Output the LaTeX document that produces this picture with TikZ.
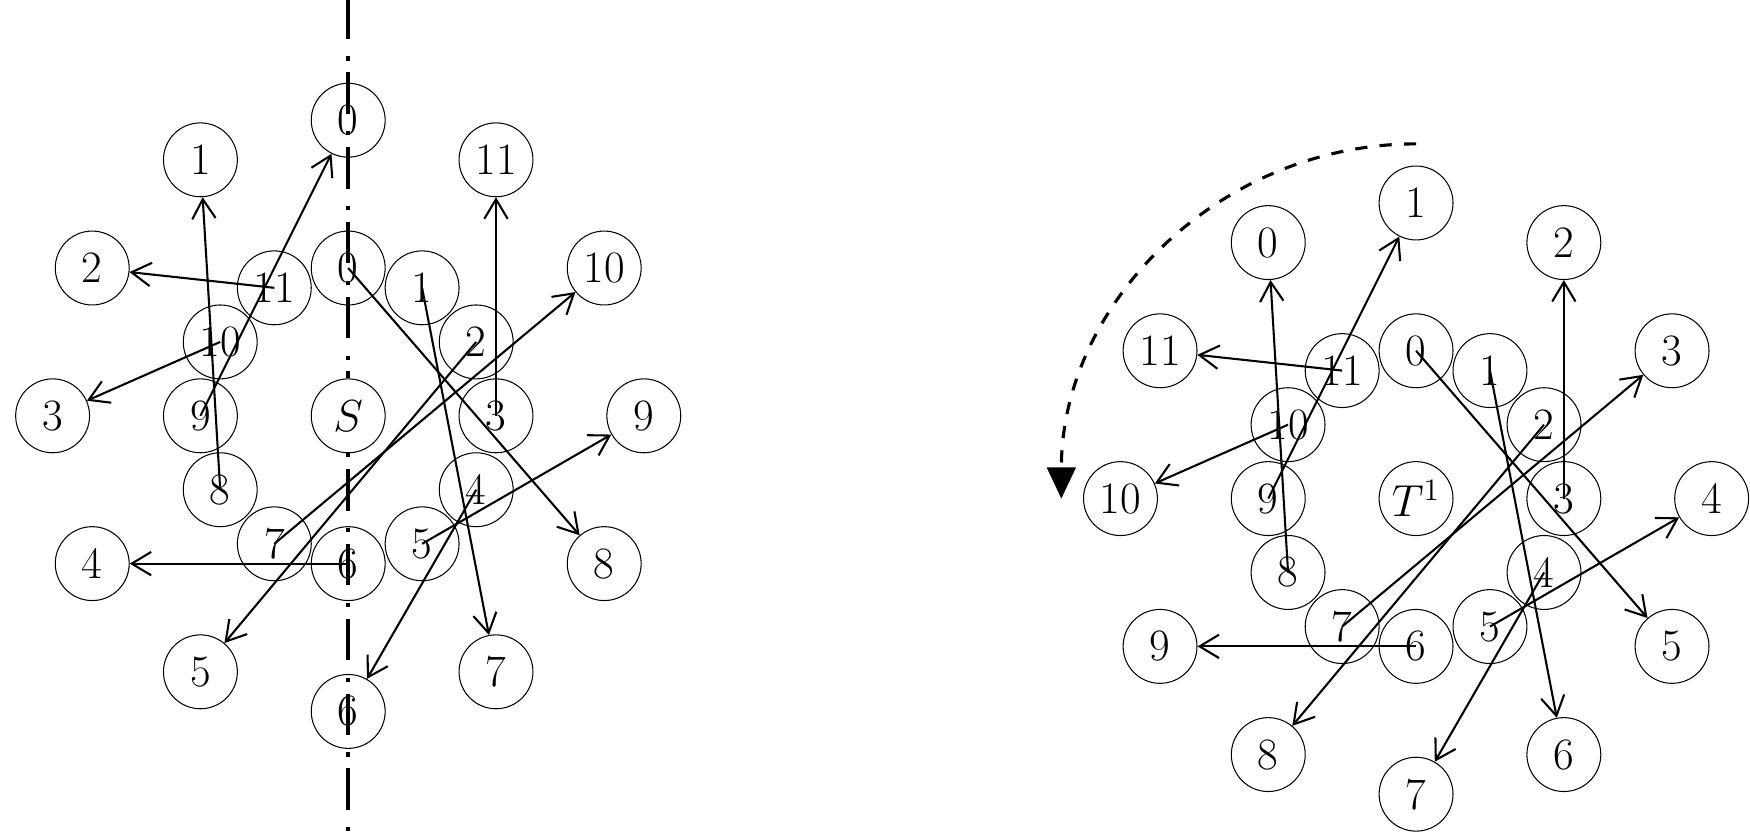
\documentclass[tikz,border=0pt]{standalone}
\usetikzlibrary{arrows.meta}
\tikzset{
  vnode/.style={circle, draw, line width=0.4pt, minimum size=1cm, inner sep=0pt, font=\LARGE},
  mapping/.style={line width=0.8pt, -{Straight Barb[length=7.5pt,width=9pt]}},
  axisline/.style={line width=1.6pt, dash pattern=on 1.6pt off 4.5pt on 16pt off 6.7pt},
  rotarrow/.style={line width=1.2pt, dash pattern=on 4.7pt off 4.7pt, -{Triangle[length=12pt,width=11pt]}},
}
\begin{document}
\begin{tikzpicture}
\useasboundingbox (-4.712,-5.632) rectangle (18.969,5.627);
% left configuration
\node[vnode] (S) at (0,0) {$S$};
\coordinate (axt) at (0,5.876);
\coordinate (axb) at (0,-5.64);
\draw[axisline] (axt) -- (S);
\draw[axisline] (S) -- (axb);
\foreach \k in {0,...,11} {
  \node[vnode] (Li\k) at ({90-30*\k}:2) {\k};
}
\foreach \p in {0,...,11} {
  \pgfmathtruncatemacro\j{mod(12-\p,12)}
  \node[vnode] (Lo\p) at ({90-30*\p}:4) {\j};
}
\foreach \k/\p in {0/4,1/5,2/7,3/1,4/6,5/3,6/8,7/2,8/11,9/0,10/9,11/10} {
  \draw[mapping] (Li\k.center) -- (Lo\p);
}
% right configuration
\begin{scope}[shift={(14.45,-1.12)}]
\node[vnode] (T) at (0,0) {$T^1$};
\foreach \k in {0,...,11} {
  \node[vnode] (Ri\k) at ({90-30*\k}:2) {\k};
}
\foreach \p in {0,...,11} {
  \pgfmathtruncatemacro\j{mod(\p+1,12)}
  \node[vnode] (Ro\p) at ({90-30*\p}:4) {\j};
}
\foreach \k/\p in {0/4,1/5,2/7,3/1,4/6,5/3,6/8,7/2,8/11,9/0,10/9,11/10} {
  \draw[mapping] (Ri\k.center) -- (Ro\p);
}
\coordinate (rs) at (0,4.8);
\draw[rotarrow] (rs) arc[start angle=90, end angle=180, radius=4.8];
\end{scope}
\end{tikzpicture}
\end{document}
